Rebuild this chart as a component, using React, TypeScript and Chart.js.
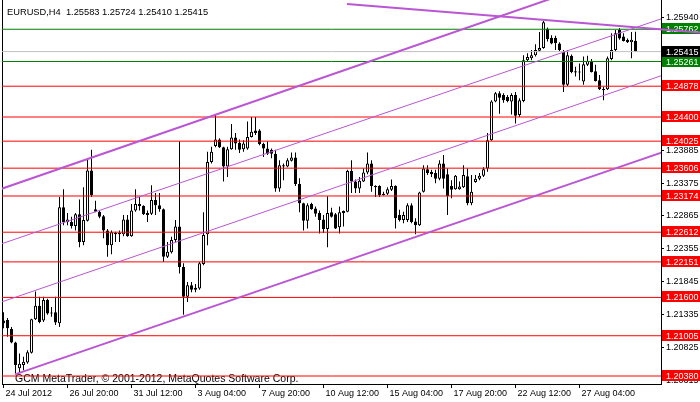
import React, { useEffect, useRef } from 'react';
import { Chart, registerables } from 'chart.js';

Chart.register(...registerables);

const SYMBOL_TITLE = 'EURUSD,H4  1.25583 1.25724 1.25410 1.25415';
const WATERMARK = 'GCM MetaTrader, \u00A9 2001-2012, MetaQuotes Software Corp.';

const OPEN = [
  1.2124, 1.2125, 1.2111, 1.2090, 1.2050, 1.2055, 1.2059, 1.2074, 1.2126, 1.2147,
  1.2124, 1.2156, 1.2135, 1.2137, 1.2120, 1.2300, 1.2277, 1.2277, 1.2271, 1.2289,
  1.2246, 1.2279, 1.2357, 1.2297, 1.2293, 1.2286, 1.2264, 1.2241, 1.2260, 1.2260,
  1.2258, 1.2281, 1.2255, 1.2295, 1.2305, 1.2302, 1.2291, 1.2290, 1.2311, 1.2303,
  1.2297, 1.2223, 1.2230, 1.2249, 1.2270, 1.2207, 1.2161, 1.2179, 1.2175, 1.2174,
  1.2212, 1.2258, 1.2370, 1.2395, 1.2405, 1.2393, 1.2363, 1.2390, 1.2408, 1.2400,
  1.2390, 1.2391, 1.2409, 1.2419, 1.2419, 1.2398, 1.2391, 1.2389, 1.2383, 1.2329,
  1.2365, 1.2363, 1.2372, 1.2377, 1.2336, 1.2306, 1.2279, 1.2305, 1.2298, 1.2291,
  1.2281, 1.2266, 1.2292, 1.2289, 1.2269, 1.2294, 1.2293, 1.2356, 1.2340, 1.2329,
  1.2340, 1.2354, 1.2368, 1.2333, 1.2333, 1.2321, 1.2321, 1.2327, 1.2333, 1.2288,
  1.2280, 1.2280, 1.2303, 1.2278, 1.2272, 1.2324, 1.2359, 1.2355, 1.2353, 1.2344,
  1.2368, 1.2351, 1.2333, 1.2328, 1.2328, 1.2331, 1.2348, 1.2306, 1.2339, 1.2344,
  1.2349, 1.2360, 1.2404, 1.2464, 1.2477, 1.2474, 1.2471, 1.2464, 1.2474, 1.2443,
  1.2465, 1.2528, 1.2531, 1.2536, 1.2543, 1.2547, 1.2577, 1.2563, 1.2563, 1.2554,
  1.2541, 1.2490, 1.2535, 1.2511, 1.2509, 1.2495, 1.2521, 1.2527, 1.2511, 1.2497,
  1.2483, 1.2483, 1.2530, 1.2544, 1.2575, 1.2565, 1.2560, 1.2556, 1.25583,
];

const HIGH = [
  1.2137, 1.2128, 1.2114, 1.2091, 1.2073, 1.2068, 1.2078, 1.2127, 1.2169, 1.2161,
  1.2161, 1.2158, 1.2145, 1.2161, 1.2316, 1.2328, 1.2291, 1.2285, 1.2291, 1.2312,
  1.2331, 1.2374, 1.2389, 1.2310, 1.2295, 1.2288, 1.2266, 1.2264, 1.2262, 1.2264,
  1.2288, 1.2288, 1.2305, 1.2328, 1.2316, 1.2303, 1.2295, 1.2334, 1.2322, 1.2322,
  1.2298, 1.2246, 1.2254, 1.2280, 1.2402, 1.2213, 1.2184, 1.2184, 1.2181, 1.2215,
  1.2292, 1.2386, 1.2394, 1.2443, 1.2407, 1.2394, 1.2394, 1.2429, 1.2415, 1.2405,
  1.2404, 1.2433, 1.2440, 1.2440, 1.2421, 1.2400, 1.2402, 1.2391, 1.2389, 1.2373,
  1.2368, 1.2376, 1.2385, 1.2385, 1.2345, 1.2307, 1.2306, 1.2307, 1.2301, 1.2295,
  1.2288, 1.2317, 1.2299, 1.2291, 1.2301, 1.2295, 1.2358, 1.2373, 1.2343, 1.2347,
  1.2360, 1.2385, 1.2373, 1.2334, 1.2334, 1.2324, 1.2331, 1.2343, 1.2334, 1.2296,
  1.2293, 1.2306, 1.2306, 1.2283, 1.2324, 1.2365, 1.2365, 1.2358, 1.2358, 1.2373,
  1.2381, 1.2360, 1.2342, 1.2350, 1.2340, 1.2365, 1.2360, 1.2350, 1.2350, 1.2353,
  1.2362, 1.2415, 1.2466, 1.2479, 1.2480, 1.2477, 1.2474, 1.2477, 1.2479, 1.2469,
  1.2536, 1.2539, 1.2544, 1.2553, 1.2572, 1.2589, 1.2579, 1.2567, 1.2566, 1.2556,
  1.2544, 1.2544, 1.2537, 1.2518, 1.2523, 1.2534, 1.2535, 1.2530, 1.2521, 1.2505,
  1.2487, 1.2534, 1.2570, 1.2575, 1.2578, 1.2570, 1.2562, 1.2572, 1.25724,
];

const LOW = [
  1.2112, 1.2099, 1.2089, 1.2042, 1.2044, 1.2047, 1.2057, 1.2073, 1.2125, 1.2120,
  1.2122, 1.2133, 1.2130, 1.2117, 1.2114, 1.2272, 1.2272, 1.2267, 1.2264, 1.2238,
  1.2241, 1.2278, 1.2316, 1.2292, 1.2283, 1.2252, 1.2223, 1.2227, 1.2246, 1.2246,
  1.2255, 1.2254, 1.2254, 1.2293, 1.2295, 1.2288, 1.2277, 1.2288, 1.2288, 1.2293,
  1.2215, 1.2221, 1.2228, 1.2246, 1.2197, 1.2133, 1.2153, 1.2168, 1.2168, 1.2172,
  1.2210, 1.2241, 1.2368, 1.2393, 1.2392, 1.2340, 1.2347, 1.2389, 1.2389, 1.2384,
  1.2386, 1.2389, 1.2408, 1.2412, 1.2396, 1.2378, 1.2381, 1.2376, 1.2324, 1.2324,
  1.2342, 1.2362, 1.2371, 1.2333, 1.2292, 1.2264, 1.2267, 1.2296, 1.2285, 1.2259,
  1.2260, 1.2238, 1.2284, 1.2266, 1.2259, 1.2270, 1.2292, 1.2322, 1.2322, 1.2322,
  1.2339, 1.2351, 1.2324, 1.2316, 1.2316, 1.2318, 1.2319, 1.2325, 1.2267, 1.2278,
  1.2275, 1.2277, 1.2275, 1.2258, 1.2271, 1.2323, 1.2350, 1.2347, 1.2337, 1.2342,
  1.2329, 1.2288, 1.2314, 1.2327, 1.2327, 1.2330, 1.2303, 1.2303, 1.2338, 1.2342,
  1.2347, 1.2355, 1.2403, 1.2463, 1.2445, 1.2462, 1.2463, 1.2444, 1.2430, 1.2440,
  1.2463, 1.2526, 1.2528, 1.2534, 1.2541, 1.2546, 1.2557, 1.2553, 1.2544, 1.2542,
  1.2479, 1.2488, 1.2508, 1.2503, 1.2497, 1.2490, 1.2519, 1.2509, 1.2495, 1.2482,
  1.2466, 1.2482, 1.2528, 1.2542, 1.2560, 1.2557, 1.2555, 1.2531, 1.25410,
];

const CLOSE = [
  1.2120, 1.2112, 1.2090, 1.2055, 1.2057, 1.2060, 1.2075, 1.2126, 1.2147, 1.2122,
  1.2156, 1.2135, 1.2136, 1.2121, 1.2300, 1.2277, 1.2281, 1.2271, 1.2289, 1.2246,
  1.2280, 1.2357, 1.2319, 1.2293, 1.2285, 1.2264, 1.2241, 1.2261, 1.2258, 1.2258,
  1.2281, 1.2255, 1.2295, 1.2305, 1.2302, 1.2289, 1.2288, 1.2311, 1.2303, 1.2297,
  1.2223, 1.2231, 1.2249, 1.2270, 1.2207, 1.2161, 1.2179, 1.2172, 1.2172, 1.2213,
  1.2257, 1.2370, 1.2386, 1.2405, 1.2393, 1.2363, 1.2390, 1.2408, 1.2399, 1.2389,
  1.2399, 1.2409, 1.2417, 1.2415, 1.2398, 1.2391, 1.2383, 1.2383, 1.2329, 1.2365,
  1.2363, 1.2373, 1.2377, 1.2336, 1.2306, 1.2279, 1.2303, 1.2297, 1.2290, 1.2280,
  1.2266, 1.2291, 1.2285, 1.2267, 1.2292, 1.2291, 1.2356, 1.2340, 1.2329, 1.2341,
  1.2354, 1.2368, 1.2333, 1.2331, 1.2319, 1.2319, 1.2328, 1.2333, 1.2283, 1.2280,
  1.2288, 1.2303, 1.2277, 1.2272, 1.2323, 1.2360, 1.2353, 1.2351, 1.2344, 1.2368,
  1.2344, 1.2317, 1.2327, 1.2349, 1.2332, 1.2350, 1.2306, 1.2324, 1.2344, 1.2349,
  1.2359, 1.2404, 1.2464, 1.2477, 1.2470, 1.2466, 1.2465, 1.2474, 1.2442, 1.2466,
  1.2528, 1.2533, 1.2536, 1.2544, 1.2547, 1.2587, 1.2561, 1.2554, 1.2555, 1.2544,
  1.2490, 1.2536, 1.2510, 1.2509, 1.2510, 1.2522, 1.2527, 1.2510, 1.2496, 1.2483,
  1.2482, 1.2531, 1.2544, 1.2570, 1.2562, 1.2558, 1.2556, 1.2560, 1.25415,
];

const TIME_TICK_BARS = [0, 16, 32, 48, 64, 80, 96, 112, 128, 144];
const TIME_TICK_LABELS = [
  '24 Jul 2012', '26 Jul 20:00', '31 Jul 12:00', '3 Aug 04:00', '7 Aug 20:00',
  '10 Aug 12:00', '15 Aug 04:00', '17 Aug 20:00', '22 Aug 12:00', '27 Aug 04:00',
];

const PRICE_TICKS = [1.2594, 1.23885, 1.23375, 1.22865, 1.22355, 1.21845, 1.21335, 1.20825, 1.20315];

const RED_LEVELS = [1.24878, 1.244, 1.24025, 1.23606, 1.23174, 1.22612, 1.22151, 1.216, 1.21005, 1.2038];
const GREEN_LEVELS = [1.25762, 1.25261];
const BID_LEVEL = 1.25415;

// trend lines: [barIndex, price] anchor pairs
const THICK_TRENDS = [
  [[-1, 1.23275], [165, 1.26841]],
  [[2.875, 1.20405], [165, 1.23859]],
];
const TOP_TREND = [[85.875, 1.26154], [174.125, 1.25712]];
const THIN_TRENDS = [
  [[-1, 1.22421], [165, 1.25936]],
  [[-1, 1.21518], [165, 1.25053]],
];

const X_MIN = -0.375;
const X_MAX = 164.375;
const Y_MIN = 1.20256;
const Y_MAX = 1.26216;

const FONT = '"Liberation Sans", Arial, sans-serif';
const PURPLE = '#BA55D3';

export default function App() {
  const ref = useRef<HTMLCanvasElement | null>(null);

  useEffect(() => {
    const canvas = ref.current;
    if (!canvas) return;

    const bodies = OPEN.map((o, i) => ({ x: i, y: [o, CLOSE[i]] }));
    const wicks = OPEN.map((_, i) => ({ x: i, y: [LOW[i], HIGH[i]] }));
    const bodyFill = OPEN.map((o, i) => (CLOSE[i] >= o ? '#ffffff' : '#000000'));

    const levelLine = (v: number, color: string) => ({
      type: 'line' as const,
      data: [{ x: X_MIN - 2, y: v }, { x: X_MAX + 2, y: v }],
      borderColor: color,
      borderWidth: 1,
      pointRadius: 0,
      fill: false,
      order: 1,
      xAxisID: 'x',
      yAxisID: 'y',
    });
    const trendLine = (pts: number[][], width: number, clip?: boolean) => ({
      type: 'line' as const,
      data: pts.map((p) => ({ x: p[0], y: p[1] })),
      borderColor: PURPLE,
      borderWidth: width,
      pointRadius: 0,
      fill: false,
      order: 0,
      xAxisID: 'x',
      yAxisID: 'y',
      ...(clip === false ? { clip: false } : {}),
    });

    const overlay = {
      id: 'mtOverlay',
      beforeDatasetsDraw(chart: any) {
        const { ctx, chartArea, scales } = chart;
        ctx.save();
        ctx.font = `10.5px ${FONT}`;
        ctx.fillStyle = '#000';
        ctx.textBaseline = 'alphabetic';
        ctx.textAlign = 'left';
        ctx.fillText(WATERMARK, chartArea.left + 13, chartArea.bottom - 2.5);

        const boxes: [number, string][] = [
          ...RED_LEVELS.map((v) => [v, '#ff0000'] as [number, string]),
          ...GREEN_LEVELS.map((v) => [v, '#008000'] as [number, string]),
          [BID_LEVEL, '#000000'],
        ];
        ctx.font = `9px ${FONT}`;
        for (const [v, c] of boxes) {
          const py = Math.round(scales.y.getPixelForValue(v));
          ctx.fillStyle = c;
          ctx.fillRect(chartArea.right + 1, py - 6, chart.width - chartArea.right - 1, 11);
          ctx.fillStyle = '#ffffff';
          ctx.fillText(v.toFixed(5), chartArea.right + 5, py + 3);
        }
        ctx.restore();
      },
      afterDraw(chart: any) {
        const { ctx } = chart;
        ctx.save();
        ctx.font = `9.3px ${FONT}`;
        ctx.fillStyle = '#000';
        ctx.textBaseline = 'alphabetic';
        ctx.textAlign = 'left';
        ctx.fillText(SYMBOL_TITLE, 7, 15);
        ctx.restore();
      },
    };

    const zeroPad = (s: any) => {
      s.paddingTop = 0;
      s.paddingBottom = 0;
      s.paddingLeft = 0;
      s.paddingRight = 0;
    };

    const chart = new Chart(canvas, {
      type: 'bar',
      data: {
        datasets: [
          ...THICK_TRENDS.map((t) => trendLine(t, 2)),
          trendLine(TOP_TREND, 2, false),
          ...THIN_TRENDS.map((t) => trendLine(t, 1)),
          ...RED_LEVELS.map((v) => levelLine(v, '#ff0000')),
          ...GREEN_LEVELS.map((v) => levelLine(v, '#008000')),
          levelLine(BID_LEVEL, '#c0c0c0'),
          {
            type: 'bar' as const,
            data: bodies as any,
            backgroundColor: bodyFill,
            borderColor: '#000000',
            borderWidth: 1,
            borderSkipped: false,
            grouped: false,
            barPercentage: 1,
            categoryPercentage: 1,
            maxBarThickness: 3,
            minBarLength: 1,
            inflateAmount: 0,
            order: 2,
            xAxisID: 'x',
            yAxisID: 'y',
          },
          {
            type: 'bar' as const,
            data: wicks as any,
            backgroundColor: '#000000',
            borderWidth: 0,
            grouped: false,
            barPercentage: 1,
            categoryPercentage: 1,
            maxBarThickness: 1,
            inflateAmount: 0,
            order: 3,
            xAxisID: 'x',
            yAxisID: 'y',
          },
        ] as any,
      },
      options: {
        responsive: false,
        animation: false,
        devicePixelRatio: 1,
        events: [],
        layout: { padding: 0 },
        plugins: { legend: { display: false }, tooltip: { enabled: false }, title: { display: false } },
        scales: {
          x: {
            type: 'linear',
            position: 'bottom',
            min: X_MIN,
            max: X_MAX,
            offset: false,
            grid: { display: true, drawOnChartArea: false, drawTicks: true, tickLength: 4, color: '#000', offset: false },
            border: { display: true, color: '#000', width: 1 },
            ticks: {
              autoSkip: false,
              maxRotation: 0,
              minRotation: 0,
              align: 'start',
              labelOffset: 2,
              padding: 0,
              color: '#000',
              font: { family: FONT, size: 9 },
              callback: (value: any) => {
                const k = TIME_TICK_BARS.indexOf(Number(value));
                return k >= 0 ? TIME_TICK_LABELS[k] : '';
              },
            },
            afterBuildTicks: (s: any) => {
              s.ticks = TIME_TICK_BARS.map((v) => ({ value: v }));
            },
            afterFit: (s: any) => {
              s.height = 18;
              zeroPad(s);
            },
          },
          y: {
            type: 'linear',
            position: 'right',
            min: Y_MIN,
            max: Y_MAX,
            grid: { display: true, drawOnChartArea: false, drawTicks: true, tickLength: 3, color: '#000' },
            border: { display: true, color: '#000', width: 1 },
            ticks: {
              padding: 2,
              color: '#000',
              font: { family: FONT, size: 9 },
              callback: (value: any) => Number(value).toFixed(5),
            },
            afterBuildTicks: (s: any) => {
              s.ticks = PRICE_TICKS.map((v) => ({ value: v }));
            },
            afterFit: (s: any) => {
              s.width = 39;
              zeroPad(s);
            },
          },
          yLeft: {
            type: 'linear',
            position: 'left',
            min: Y_MIN,
            max: Y_MAX,
            grid: { display: false },
            border: { display: true, color: '#000', width: 1 },
            ticks: { display: false },
            afterFit: (s: any) => {
              s.width = 2;
              zeroPad(s);
            },
          },
        },
      } as any,
      plugins: [overlay],
    });

    return () => chart.destroy();
  }, []);

  return (
    <div style={{ position: 'fixed', left: 0, top: 0, width: 700, height: 402, background: '#fff' }}>
      <canvas ref={ref} width={700} height={402} style={{ display: 'block', width: 700, height: 402 }} />
    </div>
  );
}
